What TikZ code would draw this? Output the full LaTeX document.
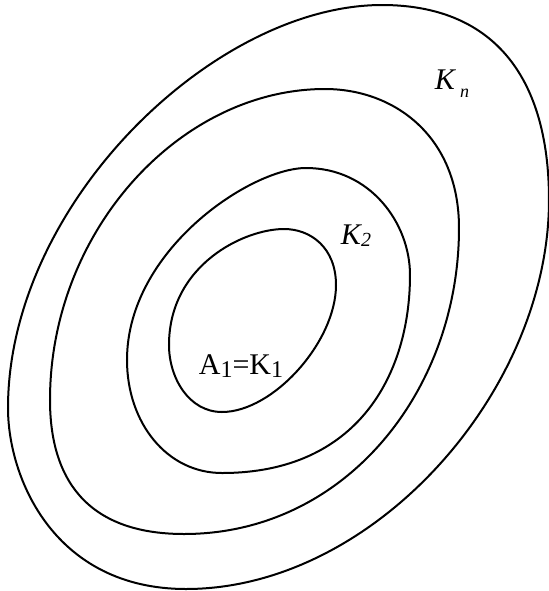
\documentclass[tikz,border=0pt]{standalone}
\usepackage{fontspec}
\setmainfont{Liberation Serif}
\usetikzlibrary{positioning}

% lowered small index after a letter
\newcommand{\idx}[3]{\raisebox{-#2}{\fontsize{#1}{#1}\selectfont #3}}

\begin{document}
\begin{tikzpicture}[
    x=0.5pt, y=-0.5pt,
    region/.style={draw, line width=1pt},
    setname/.style={inner sep=0pt, font=\fontsize{15}{18}\selectfont}
]
\useasboundingbox (0,0) rectangle (549,591);

% Regions, from inside out (top, right, bottom, left)
\draw[region] (284,229) .. controls (311,229) and (336,248) .. (336,285)
  .. controls (336,342) and (273,412) .. (222,412)
  .. controls (189,412) and (169,378) .. (169,345)
  .. controls (169,265) and (244,229) .. cycle;
\draw[region] (306,168) .. controls (370,168) and (410,223) .. (410,275)
  .. controls (410,374) and (358,473) .. (222,473)
  .. controls (167,473) and (127,423) .. (127,360)
  .. controls (127,250) and (251,168) .. cycle;
\draw[region] (325,89) .. controls (394,89) and (459,136) .. (459,228)
  .. controls (459,391) and (345,534) .. (184,534)
  .. controls (85,534) and (50,477) .. (50,400)
  .. controls (50,231) and (180,89) .. cycle;
\draw[region] (382,5) .. controls (490,5) and (549,73) .. (549,200)
  .. controls (549,391) and (374,589) .. (186,589)
  .. controls (55,589) and (8,479) .. (8,408)
  .. controls (8,204) and (214,5) .. cycle;

% Labels
\node[setname] (kn) at (452,84) {\itshape K\,\idx{9pt}{4pt}{n}};
\node[setname] (k2) at (356,236) {\itshape K\idx{10pt}{1pt}{2}};
\node[setname] (a1) at (241,366) {A\idx{12pt}{1.2pt}{1}=K\idx{12pt}{1.2pt}{1}};

\end{tikzpicture}
\end{document}
